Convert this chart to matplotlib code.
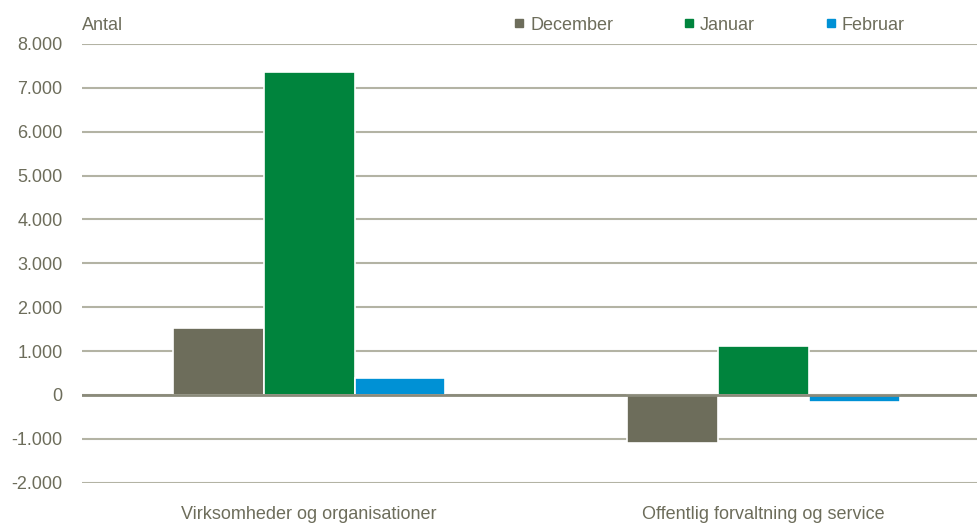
import matplotlib.pyplot as plt
import numpy as np
from matplotlib.ticker import FuncFormatter
from matplotlib.lines import Line2D

# data
categories = ['Virksomheder og organisationer', 'Offentlig forvaltning og service']
series_names = ['December', 'Januar', 'Februar']
december = [1530, -1100]
januar = [7360, 1120]
februar = [380, -170]
colors = ['#6D6D5B', '#00843D', '#0091D5']

txt = '#6D6D5B'
grid_c = '#B3B3A4'
plt.rcParams['font.family'] = ['Liberation Sans', 'DejaVu Sans']
fs = 13

fig = plt.figure(figsize=(9.77, 5.25), dpi=100)
ax = fig.add_axes([82 / 977, 1 - 482.7 / 525, 1 - 82 / 977, (482.7 - 44) / 525])

x = np.arange(len(categories))
w = 0.2
for i, (vals, name) in enumerate(zip([december, januar, februar], series_names)):
    ax.bar(x + (i - 1) * w, vals, w, color=colors[i], edgecolor='white',
           linewidth=1.2, label=name, zorder=3)

ax.set_xlim(-0.5, 1.47)
ax.set_ylim(-2000, 8000)
ax.set_yticks(range(-2000, 8001, 1000))
ax.yaxis.set_major_formatter(FuncFormatter(lambda v, p: f'{int(v):,}'.replace(',', '.')))
ax.grid(axis='y', color=grid_c, linewidth=1.5, zorder=0)
ax.axhline(0, color='#8A8A7A', linewidth=2, zorder=4)
for s in ax.spines.values():
    s.set_visible(False)
ax.tick_params(axis='y', length=0, pad=14, labelsize=fs, labelcolor=txt)
ax.set_xticks(x)
ax.set_xticklabels(categories)
ax.tick_params(axis='x', length=0, pad=17, labelsize=fs, labelcolor=txt)

fig.text(82 / 977, 1 - 25 / 525, 'Antal', fontsize=fs, color=txt, va='center', ha='left')

handles = [Line2D([], [], marker='s', linestyle='none', markersize=6,
                  markerfacecolor=c, markeredgecolor=c) for c in colors]
fig.legend(handles, series_names, loc='center left', bbox_to_anchor=(494 / 977, 1 - 25 / 525),
           ncol=3, frameon=False, fontsize=fs, labelcolor=txt, handletextpad=0.1,
           columnspacing=3.7, handlelength=1.0)

fig.savefig('out.png', dpi=100)
